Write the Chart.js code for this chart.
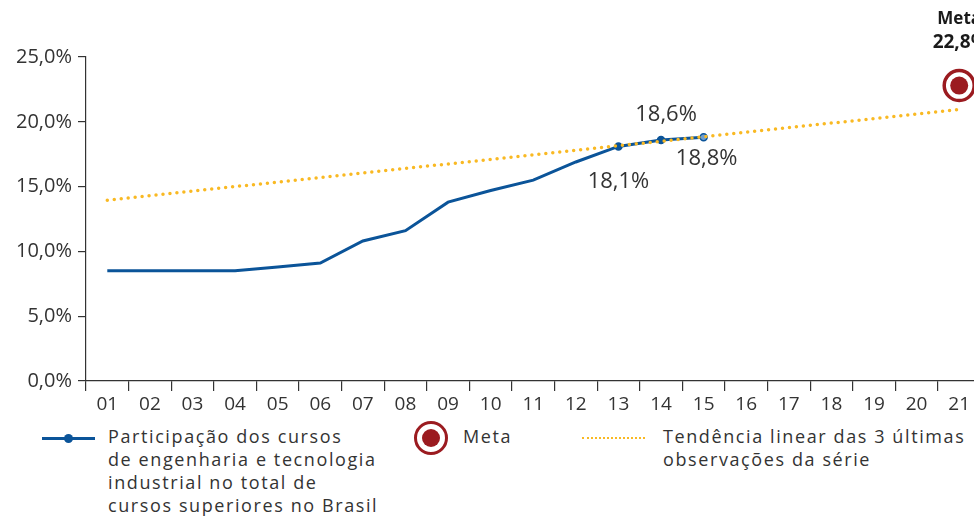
<!DOCTYPE html>
<html lang="pt-BR">
<head>
<meta charset="utf-8">
<script src="https://cdn.jsdelivr.net/npm/chart.js@4/dist/chart.umd.min.js"></script>
<style>
  html, body { margin: 0; padding: 0; background: #fff; width: 974px; height: 516px; overflow: hidden; }
  #grafico { position: absolute; left: 0; top: 0; width: 999px; height: 420px; }
  .legenda { position: absolute; font-family: "Open Sans", sans-serif; font-size: 18px; color: #333; line-height: 23px; letter-spacing: 1.6px; }
  .leg-texto { position: absolute; top: -1px; white-space: nowrap; }
  .sim-linha { position: absolute; height: 3px; background: #0B5499; }
  .sim-ponto { position: absolute; width: 9px; height: 9px; border-radius: 50%; background: #0B5499; }
  .sim-meta { position: absolute; width: 28px; height: 28px; border-radius: 50%; border: 3px solid #9B1B20; background: #fff; }
  .sim-meta::after { content: ""; position: absolute; left: 5px; top: 5px; width: 18px; height: 18px; border-radius: 50%; background: #9B1B20; }
  .sim-tend { position: absolute; height: 0; border-top: 2px dotted #F9B923; }
</style>
</head>
<body>
<div id="grafico"><canvas id="cv"></canvas></div>

<div class="legenda" style="left:0; top:426px; width:974px; height:90px;">
  <div class="sim-linha" style="left:42px; top:11px; width:53px;"></div>
  <div class="sim-ponto" style="left:64px; top:8px;"></div>
  <div class="leg-texto" style="left:108px;">Participação dos cursos<br>de engenharia e tecnologia<br>industrial no total de<br>cursos superiores no Brasil</div>

  <div class="sim-meta" style="left:414px; top:-5px;"></div>
  <div class="leg-texto" style="left:463px;">Meta</div>

  <div class="sim-tend" style="left:582px; top:11px; width:63px;"></div>
  <div class="leg-texto" style="left:663px;">Tendência linear das 3 últimas<br>observações da série</div>
</div>

<script>
// anos 2001..2021 (rótulos curtos)
const anos = ['01','02','03','04','05','06','07','08','09','10','11','12','13','14','15','16','17','18','19','20','21'];

// participação (%) observada, 2001-2015
const participacao = [8.5, 8.5, 8.5, 8.5, 8.8, 9.1, 10.8, 11.6, 13.8, 14.7, 15.5, 16.9, 18.1, 18.6, 18.8,
                      null, null, null, null, null, null];

// reta de tendência: só as extremidades, o resto é ligado por spanGaps
const tendencia = [13.95, null, null, null, null, null, null, null, null, null, null, null, null, null, null,
                   null, null, null, null, null, 20.95];

// meta para 2021
const meta = [null, null, null, null, null, null, null, null, null, null, null, null, null, null, null,
              null, null, null, null, null, 22.8];

// pontos da série que recebem rótulo
const rotulados = [12, 13, 14];

const AZUL = '#0B5499';
const AMARELO = '#F9B923';
const VERMELHO = '#9B1B20';
const TEXTO = '#333333';
const FONTE = '"Open Sans", sans-serif';

function pct(v) {
    return v.toFixed(1).replace('.', ',') + '%';
}

// rótulos de valor desenhados sobre os pontos
const rotulosPlugin = {
    id: 'rotulos',
    afterDatasetsDraw(chart) {
        const ctx = chart.ctx;
        ctx.save();
        ctx.fillStyle = TEXTO;
        ctx.textAlign = 'center';
        ctx.textBaseline = 'middle';
        ctx.font = '22px ' + FONTE;

        const serie = chart.getDatasetMeta(0).data;
        const desloc = { 12: [0, 35], 13: [5, -25], 14: [3, 21] };
        rotulados.forEach(i => {
            const p = serie[i];
            const [dx, dy] = desloc[i];
            ctx.fillText(pct(participacao[i]), p.x + dx, p.y + dy);
        });

        const m = chart.getDatasetMeta(2).data[20];
        ctx.fillStyle = '#1a1a1a';
        ctx.font = 'bold 17px ' + FONTE;
        ctx.fillText('Meta', m.x, m.y - 66);
        ctx.font = 'bold 19px ' + FONTE;
        ctx.fillText(pct(meta[20]), m.x + 1, m.y - 43);
        ctx.restore();
    }
};

new Chart(document.getElementById('cv'), {
    type: 'line',
    data: {
        labels: anos,
        datasets: [
            {
                label: 'Participação',
                data: participacao,
                borderColor: AZUL,
                backgroundColor: AZUL,
                borderWidth: 3,
                tension: 0,
                pointRadius: ctx => rotulados.includes(ctx.dataIndex) ? 3.5 : 0,
                pointBackgroundColor: ctx => ctx.dataIndex === 14 ? '#6f9fd0' : AZUL,
                pointBorderColor: AZUL,
                pointBorderWidth: 1.5,
                order: 2
            },
            {
                label: 'Tendência',
                data: tendencia,
                spanGaps: true,
                borderColor: AMARELO,
                borderWidth: 3.5,
                borderDash: [0, 7],
                borderCapStyle: 'round',
                pointRadius: 0,
                order: 1
            },
            {
                label: 'Meta',
                data: meta,
                showLine: false,
                pointRadius: 15,
                pointBackgroundColor: '#fff',
                pointBorderColor: VERMELHO,
                pointBorderWidth: 3.5,
                order: 0
            },
            {
                label: 'Meta (centro)',
                data: meta,
                showLine: false,
                pointRadius: 9,
                pointBackgroundColor: VERMELHO,
                pointBorderWidth: 0,
                order: -1
            }
        ]
    },
    options: {
        responsive: true,
        maintainAspectRatio: false,
        animation: false,
        layout: { padding: { top: 57, left: 0, right: 0, bottom: 0 } },
        plugins: {
            legend: { display: false },
            tooltip: { enabled: false }
        },
        scales: {
            x: {
                offset: true,
                grid: { offset: true, drawOnChartArea: false, drawTicks: true, tickLength: 10, color: TEXTO, lineWidth: 1.2 },
                border: { color: TEXTO, width: 1.2 },
                ticks: { color: TEXTO, font: { family: FONTE, size: 19 }, padding: 2, maxRotation: 0, autoSkip: false },
                afterFit: s => { s.height = 39; }
            },
            y: {
                min: 0,
                max: 25,
                ticks: { stepSize: 5, color: TEXTO, font: { family: FONTE, size: 20 }, padding: 6, callback: v => pct(v) },
                grid: { drawOnChartArea: false, drawTicks: true, tickLength: 8, color: TEXTO, lineWidth: 1.2 },
                border: { color: TEXTO, width: 1.2 },
                afterFit: s => { s.width = 86; }
            }
        }
    },
    plugins: [rotulosPlugin]
});
</script>
</body>
</html>
